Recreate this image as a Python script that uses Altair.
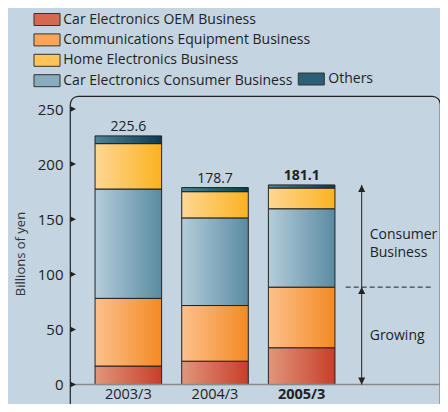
import altair as alt
import pandas as pd

years = ["2003/3", "2004/3", "2005/3"]
stack_order = [
    "Car Electronics OEM Business",
    "Communications Equipment Business",
    "Car Electronics Consumer Business",
    "Home Electronics Business",
    "Others",
]
legend_main = [
    "Car Electronics OEM Business",
    "Communications Equipment Business",
    "Home Electronics Business",
    "Car Electronics Consumer Business",
]
legend_other = ["Others"]

oem = [16.8, 21.2, 33.4]
comms = [61.4, 50.5, 55.0]
consumer = [99.2, 79.5, 71.1]
home = [41.2, 23.8, 18.8]
others = [7.0, 3.7, 2.8]
totals = [225.6, 178.7, 181.1]
tick_values = [0, 50, 100, 150, 200, 250]

series = dict(zip(stack_order, [oem, comms, consumer, home, others]))

gradients = {
    "Car Electronics OEM Business": ("#e0977c", "#c83e29"),
    "Communications Equipment Business": ("#fdc08c", "#f38a23"),
    "Home Electronics Business": ("#fed794", "#fbb220"),
    "Car Electronics Consumer Business": ("#b5cdd9", "#5a8ba1"),
    "Others": ("#4f8399", "#0a3c55"),
}
solid = {
    "Car Electronics OEM Business": "#d4694f",
    "Communications Equipment Business": "#f8a558",
    "Home Electronics Business": "#fdc45a",
    "Car Electronics Consumer Business": "#88abbd",
    "Others": "#2b5e77",
}

rows = []
for i, cat in enumerate(stack_order):
    for y, v in zip(years, series[cat]):
        rows.append({"year": y, "cat": cat, "value": v, "order": i})
df = pd.DataFrame(rows)
tot_df = pd.DataFrame({"year": years, "total": totals})
tick_df = pd.DataFrame({"t": tick_values})
one = pd.DataFrame({"k": [0]})

FONT = "Open Sans"
INK = "#222222"

xscale = alt.Scale(domain=years, range=[0, 290], paddingInner=0.232, paddingOuter=0.289)
yscale = alt.Scale(domain=[-24.0, 261.8], nice=False, zero=False)

X = alt.X("year:N", scale=xscale, axis=None)

base = alt.Chart(df).transform_stack(
    stack="value", groupby=["year"], sort=[alt.SortField("order")], as_=["v0", "v1"]
)

bar_layers = []
for cat in stack_order:
    c0, c1 = gradients[cat]
    grad = alt.LinearGradient(
        gradient="linear", x1=0, y1=0, x2=1, y2=0,
        stops=[alt.GradientStop(color=c0, offset=0), alt.GradientStop(color=c1, offset=1)],
    )
    bar_layers.append(
        base.transform_filter(alt.datum.cat == cat)
        .mark_bar(color=grad, stroke=INK, strokeWidth=1)
        .encode(
            x=X,
            y=alt.Y(
                "v0:Q", scale=yscale,
                axis=alt.Axis(
                    values=tick_values, domain=False, ticks=False, grid=False,
                    labelFontSize=15, labelPadding=7, labelColor=INK,
                    title="Billions of yen", titleFontSize=13, titleFontWeight="normal",
                    titleColor="#333333", titlePadding=10,
                ),
            ),
            y2="v1:Q",
        )
    )

zero_line = alt.Chart(one).mark_rule(color="#8a8a8a", strokeWidth=1.5).encode(y=alt.datum(0))

ticks = alt.Chart(tick_df).mark_point(
    shape="M0,-1L2,0L0,1Z", filled=True, size=36, color=INK, opacity=1
).encode(x=alt.value(0), y=alt.Y("t:Q", scale=yscale))

tot_norm = alt.Chart(tot_df).transform_filter(alt.datum.year != years[-1]).mark_text(
    baseline="alphabetic", dy=-5, fontSize=14, color=INK
).encode(x=X, y=alt.Y("total:Q", scale=yscale), text=alt.Text("total:Q", format=".1f"))
tot_bold = alt.Chart(tot_df).transform_filter(alt.datum.year == years[-1]).mark_text(
    baseline="alphabetic", dy=-5, fontSize=14, fontWeight="bold", color=INK
).encode(x=X, y=alt.Y("total:Q", scale=yscale), text=alt.Text("total:Q", format=".1f"))

xlab_norm = alt.Chart(tot_df).transform_filter(alt.datum.year != years[-1]).mark_text(
    baseline="middle", dy=10, fontSize=14.5, color=INK
).encode(x=X, y=alt.datum(0), text="year:N")
xlab_bold = alt.Chart(tot_df).transform_filter(alt.datum.year == years[-1]).mark_text(
    baseline="middle", dy=10, fontSize=14.5, fontWeight="bold", color=INK
).encode(x=X, y=alt.datum(0), text="year:N")

top_val = totals[-1]
mid_val = oem[-1] + comms[-1]
ARX = 291.7

arrow_line = alt.Chart(one).mark_rule(color=INK, strokeWidth=1).encode(
    x=alt.value(ARX), y=alt.datum(0), y2=alt.datum(top_val)
)
up_heads = alt.Chart(pd.DataFrame({"v": [top_val, mid_val]})).mark_point(
    shape="M0,0L-1,2L1,2Z", filled=True, size=49, color=INK, opacity=1
).encode(x=alt.value(ARX), y=alt.Y("v:Q", scale=yscale))
down_head = alt.Chart(pd.DataFrame({"v": [0]})).mark_point(
    shape="M0,0L-1,-2L1,-2Z", filled=True, size=49, color=INK, opacity=1
).encode(x=alt.value(ARX), y=alt.Y("v:Q", scale=yscale))
dashed = alt.Chart(one).mark_rule(color=INK, strokeWidth=1, strokeDash=[5, 3]).encode(
    x=alt.value(275.7), x2=alt.value(360.7), y=alt.datum(mid_val)
)
txt_consumer = alt.Chart(one).mark_text(
    align="left", baseline="middle", fontSize=14, lineHeight=18, color=INK
).encode(x=alt.value(299.7), y=alt.datum(135.4), text=alt.value(["Consumer", "Business"]))
txt_growing = alt.Chart(one).mark_text(
    align="left", baseline="middle", fontSize=14, color=INK
).encode(x=alt.value(299.7), y=alt.datum(44.0), text=alt.value("Growing"))

SW = "M-2.17,-1H2.17V1H-2.17Z"
leg_main = alt.Chart(pd.DataFrame({"cat": legend_main})).mark_point(
    filled=True, opacity=0
).encode(
    color=alt.Color(
        "cat:N",
        scale=alt.Scale(domain=legend_main, range=[solid[c] for c in legend_main]),
        legend=alt.Legend(
            orient="none", legendX=-30, legendY=-83.5, direction="vertical", title=None,
            symbolType=SW, symbolSize=144, symbolStrokeColor="#333333", symbolStrokeWidth=1,
            symbolOpacity=1, labelFontSize=14, labelOffset=9.3, rowPadding=4.4,
            labelColor=INK, padding=0, labelLimit=400,
        ),
    )
)
leg_other = alt.Chart(pd.DataFrame({"cat": legend_other})).mark_point(
    filled=True, opacity=0
).encode(
    fill=alt.Fill(
        "cat:N",
        scale=alt.Scale(domain=legend_other, range=[solid[c] for c in legend_other]),
        legend=alt.Legend(
            orient="none", legendX=234.3, legendY=-24.0, direction="vertical", title=None,
            symbolType=SW, symbolSize=144, symbolStrokeColor="#333333", symbolStrokeWidth=1,
            symbolOpacity=1, labelFontSize=14, labelOffset=10,
            labelColor=INK, padding=0,
        ),
    )
)

chart = alt.layer(
    *bar_layers, zero_line, ticks, tot_norm, tot_bold, xlab_norm, xlab_bold,
    arrow_line, up_heads, down_head, dashed, txt_consumer, txt_growing,
    leg_main, leg_other,
).resolve_scale(color="independent", fill="independent").properties(
    width=370, height=315,
    padding={"left": 62, "top": 88, "right": 0, "bottom": -7},
    autosize=alt.AutoSizeParams(type="none"),
).configure(
    background="#c4d5e1", font=FONT
).configure_view(
    fill="white", stroke=INK, strokeWidth=1.2, cornerRadius=8
)

chart.save("out.html", embed_options={"renderer": "svg", "actions": False})
